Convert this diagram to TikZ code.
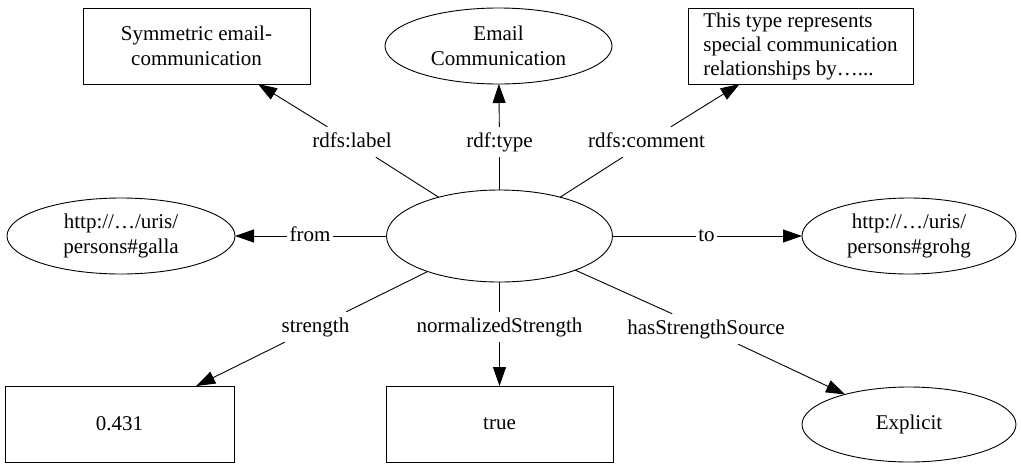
\documentclass[tikz,border=0pt]{standalone}
\usepackage{fontspec}
\setmainfont{Liberation Serif}
\usetikzlibrary{shapes.geometric,arrows.meta}
\begin{document}
\begin{tikzpicture}[x=1pt,y=-1pt,
  every node/.style={font=\fontsize{21}{25}\selectfont},
  ell/.style={draw,ellipse,inner sep=0pt,outer sep=0pt,align=center,minimum height=76pt},
  box/.style={draw,rectangle,inner sep=0pt,outer sep=0pt,align=center,minimum height=76pt},
  lbl/.style={inner xsep=2pt,inner ysep=5pt,text height=15pt,text depth=5pt},
  conn/.style={line width=0.9pt},
  arrowconn/.style={conn,-{Triangle[length=19pt,width=13pt]}}]
\useasboundingbox (0,0) rectangle (1021,464);

% nodes
\node[ell,line width=0.9pt,minimum width=226pt,minimum height=92pt] (c) at (499.5,236) {};
\node[box,line width=0.9pt,minimum width=227pt] (sym) at (196.5,46) {Symmetric email-\\communication};
\node[ell,line width=0.9pt,minimum width=227pt] (email) at (498.5,46) {Email\\Communication};
\node[box,line width=0.9pt,minimum width=225pt,align=left,font=\fontsize{21}{24}\selectfont] (com) at (800.5,46) {This type represents\\special communication\\relationships by…...};
\node[ell,line width=0.9pt,minimum width=228pt] (galla) at (121,236) {http://…/uris/\\persons\#galla};
\node[ell,line width=0.9pt,minimum width=214pt] (grohg) at (909,236) {http://…/uris/\\persons\#grohg};
\node[box,line width=0.9pt,minimum width=229pt] (v431) at (119.5,424) {0.431};
\node[box,line width=0.9pt,minimum width=227pt] (vtrue) at (499.5,424) {true};
\node[ell,line width=0.9pt,minimum width=214pt,minimum height=75pt] (expl) at (909,424.5) {Explicit};

% edge labels
\node[lbl] (lLabel) at (352,142) {rdfs:label};
\node[lbl] (lType) at (499.5,142) {rdf:type};
\node[lbl] (lComment) at (646.5,142) {rdfs:comment};
\node[lbl] (lFrom) at (310,236) {from};
\node[lbl] (lTo) at (706.5,236) {to};
\node[lbl] (lStrength) at (315.5,327) {strength};
\node[lbl] (lNorm) at (499.5,327) {normalizedStrength};
\node[lbl] (lSource) at (706,329) {hasStrengthSource};

% connectors
\draw[conn] (c) -- (lLabel);    \draw[arrowconn] (lLabel) -- (sym);
\draw[conn] (c) -- (lType);     \draw[arrowconn] (lType) -- (email);
\draw[conn] (c) -- (lComment);  \draw[arrowconn] (lComment) -- (com);
\draw[conn] (c) -- (lFrom);     \draw[arrowconn] (lFrom) -- (galla);
\draw[conn] (c) -- (lTo);       \draw[arrowconn] (lTo) -- (grohg);
\draw[conn] (c) -- (lStrength); \draw[arrowconn] (lStrength) -- (v431);
\draw[conn] (c) -- (lNorm);     \draw[arrowconn] (lNorm) -- (vtrue);
\draw[conn] (c) -- (lSource);   \draw[arrowconn] (lSource) -- (expl);
\end{tikzpicture}
\end{document}
